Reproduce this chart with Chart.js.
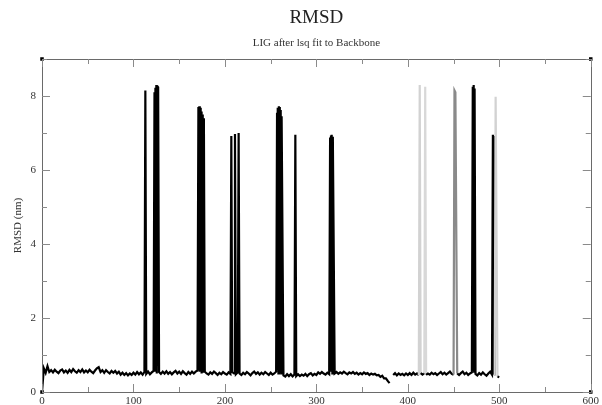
<!DOCTYPE html>
<html>
<head>
<meta charset="utf-8">
<script src="https://cdn.jsdelivr.net/npm/chart.js@4/dist/chart.umd.min.js"></script>
<style>
html,body{margin:0;padding:0;background:#fff;}
canvas{display:block;}
</style>
</head>
<body>
<canvas id="c" width="602" height="405"></canvas>
<script>
// Time (ns) and RMSD (nm)
const timeNs = [
  0,2,4,6,8,10,12,14,16,18,20,22,24,26,28,30,32,34,36,38,40,42,44,46,48,
  50,52,54,56,58,60,62,64,66,68,70,72,74,76,78,80,82,84,86,88,90,92,94,96,98,
  100,102,104,106,108,110,112,113,114,116,118,120,122,123,123.5,124,124.5,125,125.5,126,126.5,127,128,130,
  132,134,136,138,140,142,144,146,148,150,152,154,156,158,160,162,164,166,168,
  170,171,171.5,172,172.5,173,173.5,174,174.5,175,175.5,176,176.5,177,178,180,182,184,186,188,190,192,194,196,198,
  200,202,204,206,207,208,210,211,212,214,215,216,218,220,222,224,226,228,230,
  232,234,236,238,240,242,244,246,248,250,252,254,256,
  257,257.5,258,258.5,259,259.5,260,260.5,261,261.5,262,264,266,268,270,272,274,276,277,278,
  280,282,284,286,288,290,292,294,296,298,
  300,302,304,306,308,310,312,314,315,315.5,316,316.5,317,317.5,318,320,322,324,326,328,330,
  332,334,336,338,340,342,344,346,348,350,352,354,356,358,360,362,364,366,368,
  370,372,374,376,378,380,382,384,386,388,390,392,394,396,398,
  400,402,404,406,408,410,412,413,414,416,418,419,420,422,424,426,428,430,
  432,434,436,438,440,442,444,446,448,450,451,452,454,456,458,460,462,464,466,
  468,470,471,471.5,472,472.5,473,474,476,478,480,482,484,486,488,490,492,493,493.5,494,495,496,498,500
];
const rmsdNm = [
  0.00,0.64,0.52,0.70,0.54,0.59,0.53,0.60,0.55,0.51,0.58,0.61,0.53,0.58,0.52,0.60,0.54,0.62,0.56,0.52,0.59,0.54,0.61,0.53,0.58,
  0.53,0.60,0.55,0.51,0.58,0.64,0.67,0.54,0.59,0.52,0.59,0.54,0.50,0.57,0.52,0.57,0.50,0.55,0.47,0.52,0.46,0.51,0.45,0.50,0.46,
  0.52,0.47,0.54,0.48,0.53,0.47,0.54,8.15,0.49,0.55,0.48,0.53,0.57,8.10,0.55,8.22,0.60,8.30,0.50,8.28,0.70,8.25,0.54,0.49,
  0.55,0.50,0.56,0.49,0.54,0.48,0.53,0.57,0.50,0.55,0.49,0.56,0.51,0.47,0.54,0.49,0.55,0.50,0.55,
  0.58,7.70,0.60,7.72,0.55,7.68,0.65,7.58,0.50,7.50,0.60,7.44,0.55,7.40,0.55,0.50,0.47,0.53,0.49,0.55,0.51,0.46,0.52,0.48,0.54,
  0.50,0.47,0.53,0.49,6.92,0.54,0.50,6.97,0.48,0.53,7.00,0.50,0.46,0.52,0.48,0.54,0.50,0.45,0.51,
  0.55,0.49,0.53,0.47,0.52,0.48,0.54,0.50,0.46,0.52,0.47,0.50,0.55,
  7.55,0.60,7.68,0.50,7.72,0.70,7.70,0.55,7.62,0.50,7.45,0.45,0.42,0.48,0.43,0.48,0.42,0.47,6.95,0.43,
  0.48,0.43,0.47,0.44,0.49,0.43,0.48,0.51,0.45,0.49,
  0.46,0.53,0.49,0.54,0.50,0.47,0.52,0.48,6.88,0.55,6.93,0.60,6.95,0.50,6.90,0.50,0.54,0.49,0.53,0.50,0.55,
  0.51,0.48,0.53,0.50,0.54,0.49,0.52,0.47,0.51,0.48,0.53,0.49,0.51,0.46,0.50,0.47,0.49,0.45,0.46,
  0.41,0.44,0.37,0.37,0.30,0.24,null,0.46,0.51,0.45,0.50,0.46,0.49,0.45,0.50,
  0.46,0.51,0.46,0.52,0.47,0.50,0.45,8.30,0.51,0.47,0.51,8.25,0.46,0.50,0.47,0.52,0.48,0.51,
  0.46,0.50,0.54,0.48,0.52,0.47,0.51,0.55,0.49,0.47,8.15,8.10,0.50,0.46,0.51,0.55,0.48,0.52,0.46,
  0.50,0.53,8.25,0.60,8.30,0.55,8.20,0.49,0.45,0.51,0.47,0.53,0.48,0.44,0.50,0.55,0.47,6.95,0.50,6.92,0.45,7.98,0.42,0.40
];
const xTickLabels = ['0','100','200','300','400','500','600'];
const yTickLabels = ['0','2','4','6','8'];
const cornerX = [0, 0, 600, 600];
const cornerY = [0, 9, 0, 9];

const FONT = "'Liberation Serif', 'DejaVu Serif', serif";

// lighter drawing shades for a few faint spikes
const faintShade = {413:'#d2d2d2', 419:'#d8d8d8', 496:'#d2d2d2', 451:'#8a8a8a', 452:'#8a8a8a'};

const points = timeNs.map((t, i) => ({x: t, y: rmsdNm[i]}));
const corners = cornerX.map((x, i) => ({x, y: cornerY[i]}));

const inwardTicks = {
  id: 'inwardTicks',
  afterDatasetsDraw(chart) {
    const {ctx, chartArea: a, scales} = chart;
    ctx.save();
    ctx.strokeStyle = '#6a6a6a';
    ctx.lineWidth = 1;
    ctx.strokeRect(Math.round(a.left) + 0.5, Math.round(a.top) + 0.5,
                   Math.round(a.right - a.left), Math.round(a.bottom - a.top));
    ctx.strokeStyle = '#8a8a8a';
    const xs = scales.x, ys = scales.y;
    xs.ticks.forEach(tk => {
      const px = Math.round(xs.getPixelForValue(tk.value)) + 0.5;
      const len = (tk.value % 100 === 0) ? 8 : 5;
      ctx.beginPath();
      ctx.moveTo(px, a.bottom); ctx.lineTo(px, a.bottom - len);
      ctx.moveTo(px, a.top); ctx.lineTo(px, a.top + len);
      ctx.stroke();
    });
    ys.ticks.forEach(tk => {
      const py = Math.round(ys.getPixelForValue(tk.value)) + 0.5;
      const len = (tk.value % 2 === 0) ? 8 : 5;
      ctx.beginPath();
      ctx.moveTo(a.left, py); ctx.lineTo(a.left + len, py);
      ctx.moveTo(a.right, py); ctx.lineTo(a.right - len, py);
      ctx.stroke();
    });
    ctx.restore();
  }
};

new Chart(document.getElementById('c'), {
  type: 'line',
  data: {
    datasets: [
      {
        label: 'RMSD',
        data: points,
        borderColor: '#000',
        borderWidth: 2.2,
        pointRadius: 0,
        tension: 0,
        fill: false,
        spanGaps: false,
        segment: {
          borderColor: ctx => {
            const p0 = ctx.p0.parsed, p1 = ctx.p1.parsed;
            const key = p0.y > 1 ? p0.x : (p1.y > 1 ? p1.x : null);
            return (key !== null && faintShade[key]) ? faintShade[key] : '#000';
          }
        }
      },
      {
        type: 'scatter',
        label: 'corners',
        data: corners,
        pointStyle: 'rect',
        pointRadius: 2.5,
        backgroundColor: '#000',
        borderColor: '#000',
        borderWidth: 0,
        clip: false
      }
    ]
  },
  options: {
    responsive: false,
    animation: false,
    devicePixelRatio: 1,
    layout: {padding: {left: 0, right: 7, top: 0, bottom: 0}},
    plugins: {
      legend: {display: false},
      tooltip: {enabled: false},
      title: {
        display: true,
        text: 'RMSD',
        fullSize: false,
        color: '#222',
        font: {family: FONT, size: 19, weight: 'normal'},
        padding: {top: 7, bottom: 2}
      },
      subtitle: {
        display: true,
        text: 'LIG after lsq fit to Backbone',
        fullSize: false,
        color: '#333',
        font: {family: FONT, size: 11},
        padding: {top: 5, bottom: 9}
      }
    },
    scales: {
      x: {
        type: 'linear',
        min: 0, max: 600,
        grid: {display: false, drawTicks: false},
        border: {display: false},
        ticks: {
          stepSize: 50,
          autoSkip: false,
          maxRotation: 0,
          padding: 3,
          color: '#333',
          font: {family: FONT, size: 11},
          callback: v => (v % 100 === 0 ? xTickLabels[v / 100] : '')
        },
        afterFit: s => { s.height = 13; }
      },
      y: {
        min: 0, max: 9,
        grid: {display: false, drawTicks: false},
        border: {display: false},
        title: {
          display: true,
          text: 'RMSD (nm)',
          color: '#333',
          font: {family: FONT, size: 11},
          padding: {top: 12, bottom: 0}
        },
        ticks: {
          stepSize: 1,
          autoSkip: false,
          padding: 6,
          color: '#333',
          font: {family: FONT, size: 11},
          callback: v => (v % 2 === 0 && v <= 8 ? yTickLabels[v / 2] : '')
        },
        afterFit: s => { s.width = 42; }
      }
    }
  },
  plugins: [inwardTicks]
});
</script>
</body>
</html>
